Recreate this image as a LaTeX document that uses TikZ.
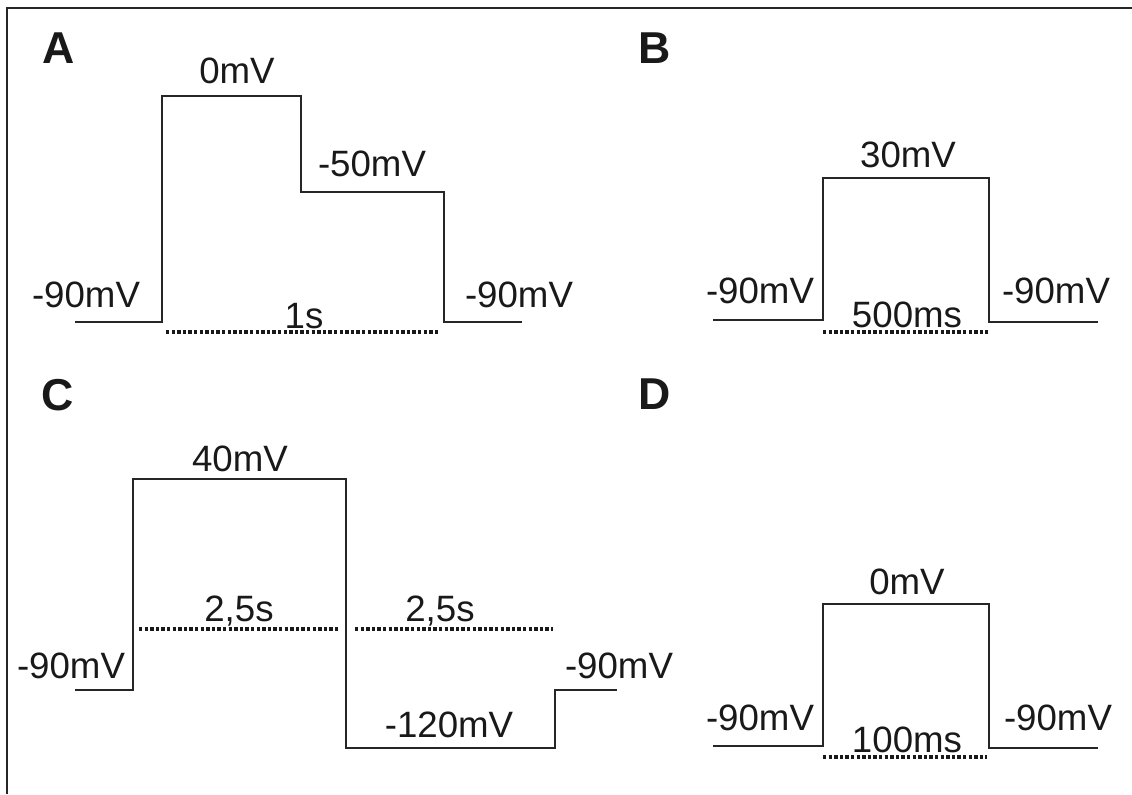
\documentclass[tikz,border=0pt]{standalone}
\usepackage{fontspec}
\setmainfont{Liberation Sans}
\begin{document}
\begin{tikzpicture}[x=0.75pt,y=-0.75pt,
  wave/.style={line width=1.1pt, draw=black!85, line join=miter},
  dots/.style={line width=2.5pt, draw=black!90, dash pattern=on 2.5pt off 1.7pt},
  lbl/.style={anchor=base, inner sep=0pt, font=\fontsize{27.5}{33}\selectfont, text=black!90},
  panel/.style={anchor=center, inner sep=0pt, font=\fontsize{33.5}{40}\selectfont\bfseries, text=black!90}]
\useasboundingbox (0,0) rectangle (1132,794);
\coordinate (fb) at (6.5,794);
\coordinate (fc) at (6.5,7.5);
\coordinate (fr) at (1132,7.5);
\draw[line width=1.5pt, black!85] (fb) -- (fc) -- (fr);

% Panel letters
\node[panel] (pA) at (59,48) {A};
\node[panel] (pB) at (655,48) {B};
\node[panel] (pC) at (58,395) {C};
\node[panel] (pD) at (655,394) {D};

% Panel A
\coordinate (a0) at (75,322);
\coordinate (a1) at (162,322);
\coordinate (a2) at (162,96);
\coordinate (a3) at (301,96);
\coordinate (a4) at (301,192);
\coordinate (a5) at (444,192);
\coordinate (a6) at (444,322);
\coordinate (a7) at (522,322);
\draw[wave] (a0) -- (a1) -- (a2) -- (a3) -- (a4) -- (a5) -- (a6) -- (a7);
\coordinate (ad0) at (166,332);
\coordinate (ad1) at (439,332);
\draw[dots] (ad0) -- (ad1);
\node[lbl] (aL0) at (237,83) {0mV};
\node[lbl] (aL1) at (372,176) {-50mV};
\node[lbl] (aL2) at (86,307) {-90mV};
\node[lbl] (aL3) at (519,307) {-90mV};
\node[lbl] (aL4) at (304,328) {1s};

% Panel B
\coordinate (b0) at (713,320);
\coordinate (b1) at (823,320);
\coordinate (b2) at (823,178);
\coordinate (b3) at (989,178);
\coordinate (b4) at (989,322);
\coordinate (b5) at (1098,322);
\draw[wave] (b0) -- (b1) -- (b2) -- (b3) -- (b4) -- (b5);
\coordinate (bd0) at (823,332);
\coordinate (bd1) at (988,332);
\draw[dots] (bd0) -- (bd1);
\node[lbl] (bL0) at (908,167) {30mV};
\node[lbl] (bL1) at (760,303) {-90mV};
\node[lbl] (bL2) at (907,327) {500ms};
\node[lbl] (bL3) at (1056,303) {-90mV};

% Panel C
\coordinate (c0) at (75,690);
\coordinate (c1) at (133,690);
\coordinate (c2) at (133,479);
\coordinate (c3) at (346,479);
\coordinate (c4) at (346,748);
\coordinate (c5) at (555,748);
\coordinate (c6) at (555,690);
\coordinate (c7) at (617,690);
\draw[wave] (c0) -- (c1) -- (c2) -- (c3) -- (c4) -- (c5) -- (c6) -- (c7);
\coordinate (cd0) at (139,629);
\coordinate (cd1) at (338,629);
\coordinate (cd2) at (355,629);
\coordinate (cd3) at (553,629);
\draw[dots] (cd0) -- (cd1);
\draw[dots] (cd2) -- (cd3);
\node[lbl] (cL0) at (240,471) {40mV};
\node[lbl] (cL1) at (239,621) {2,5s};
\node[lbl] (cL2) at (440,621) {2,5s};
\node[lbl] (cL3) at (71,678) {-90mV};
\node[lbl] (cL4) at (449,737) {-120mV};
\node[lbl] (cL5) at (619,678) {-90mV};

% Panel D
\coordinate (d0) at (713,746);
\coordinate (d1) at (823,746);
\coordinate (d2) at (823,604);
\coordinate (d3) at (989,604);
\coordinate (d4) at (989,748);
\coordinate (d5) at (1098,748);
\draw[wave] (d0) -- (d1) -- (d2) -- (d3) -- (d4) -- (d5);
\coordinate (dd0) at (823,757);
\coordinate (dd1) at (987,757);
\draw[dots] (dd0) -- (dd1);
\node[lbl] (dL0) at (907,594) {0mV};
\node[lbl] (dL1) at (907,752) {100ms};
\node[lbl] (dL2) at (760,730) {-90mV};
\node[lbl] (dL3) at (1058,730) {-90mV};
\end{tikzpicture}
\end{document}
